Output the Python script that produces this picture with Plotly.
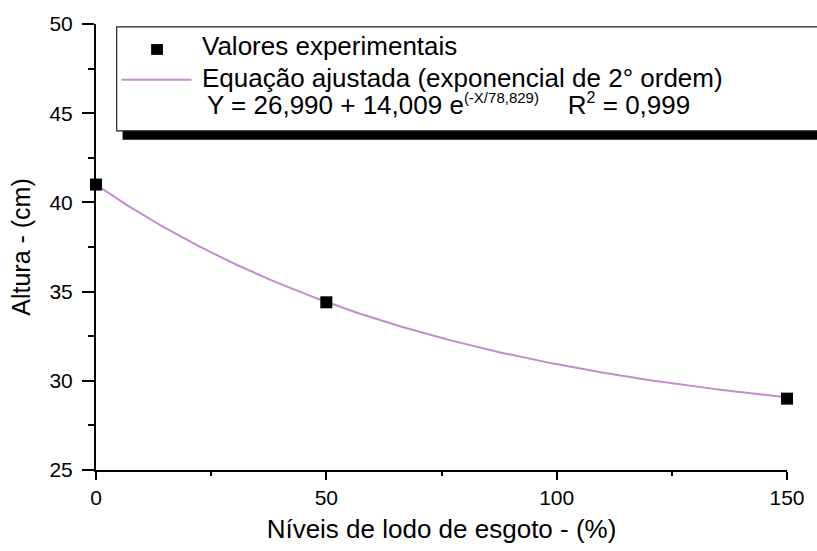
import numpy as np
import plotly.graph_objects as go

# Experimental plant height by sewage sludge level
niveis = [0, 50, 150]
altura = [41.0, 34.4, 29.0]

# Fitted second-order exponential: Y = y0 + A * exp(-X / t)
y0, amp, tau = 26.990, 14.009, 78.829
r2 = 0.999

x_tick_vals = [0, 50, 100, 150]
y_tick_vals = [25, 30, 35, 40, 45, 50]

x_fit = np.linspace(0, 150, 301)
y_fit = y0 + amp * np.exp(-x_fit / tau)

FONT = "Arial, Liberation Sans, sans-serif"
CURVE = "#c58bd0"

fig = go.Figure()
fig.add_trace(go.Scatter(
    x=x_fit, y=y_fit, mode="lines",
    line=dict(color=CURVE, width=2),
    name="Equação ajustada (exponencial de 2° ordem)",
    showlegend=False, cliponaxis=False,
))
fig.add_trace(go.Scatter(
    x=niveis, y=altura, mode="markers",
    marker=dict(symbol="square", size=12, color="black"),
    name="Valores experimentais",
    showlegend=False, cliponaxis=False,
))

W, H = 817, 551
ml, mr, mt, mb = 96, 19, 19, 77
pw, ph = W - ml - mr, H - mt - mb


def px(x):
    return (x - ml) / pw


def py(y):
    return (H - mb - y) / ph


shapes = [
    # legend shadow and frame
    dict(type="rect", xref="paper", yref="paper",
         x0=px(123), x1=px(900), y0=py(137), y1=py(30),
         fillcolor="black", line=dict(width=0), layer="above"),
    dict(type="rect", xref="paper", yref="paper",
         x0=px(117), x1=px(880), y0=py(128), y1=py(22),
         fillcolor="white", line=dict(color="#222", width=1.2), layer="above"),
    # legend keys
    dict(type="rect", xref="paper", yref="paper",
         x0=px(152), x1=px(164), y0=py(50.5), y1=py(39.5),
         fillcolor="black", line=dict(width=0), layer="above"),
    dict(type="line", xref="paper", yref="paper",
         x0=px(122), x1=px(193), y0=py(76), y1=py(76),
         line=dict(color=CURVE, width=2), layer="above"),
]

eq_text = (
    f"Y = {y0:.3f}".replace(".", ",")
    + f" + {amp:.3f}".replace(".", ",")
    + " e<sup><span style='font-size:15px'>(-X/"
    + f"{tau:.3f}".replace(".", ",") + ")</span></sup>"
    + "&nbsp;&nbsp;&nbsp;&nbsp;R<sup><span style='font-size:16px'>2</span></sup> = "
    + f"{r2:.3f}".replace(".", ",")
)

legend_lines = [
    ("Valores experimentais", 202, 41.5),
    ("Equação ajustada (exponencial de 2° ordem)", 202, 74.5),
    (eq_text, 207, 101.5),
]
annotations = [
    dict(text=t, xref="paper", yref="paper", x=px(x), y=py(y),
         xanchor="left", yanchor="middle", showarrow=False,
         font=dict(family=FONT, size=26, color="black"))
    for t, x, y in legend_lines
]

fig.update_layout(
    width=W, height=H,
    margin=dict(l=ml, r=mr, t=mt, b=mb),
    paper_bgcolor="white", plot_bgcolor="white",
    font=dict(family=FONT, color="black"),
    shapes=shapes, annotations=annotations,
    xaxis=dict(
        range=[0, 150], tickvals=x_tick_vals,
        showline=True, linecolor="black", linewidth=2,
        ticks="outside", ticklen=8, tickwidth=2, tickcolor="black",
        minor=dict(dtick=25, tick0=0, ticks="outside", ticklen=4,
                   tickwidth=2, tickcolor="black", showgrid=False),
        showgrid=False, zeroline=False,
        tickfont=dict(size=21, family=FONT),
        title=dict(text="Níveis de lodo de esgoto - (%)",
                   font=dict(size=26, family=FONT), standoff=12),
    ),
    yaxis=dict(
        range=[25, 50], tickvals=y_tick_vals,
        showline=True, linecolor="black", linewidth=2,
        ticks="outside", ticklen=12, tickwidth=2, tickcolor="black",
        minor=dict(dtick=2.5, tick0=25, ticks="outside", ticklen=6,
                   tickwidth=2, tickcolor="black", showgrid=False),
        showgrid=False, zeroline=False,
        tickfont=dict(size=21, family=FONT),
        ticklabelstandoff=5,
        title=dict(text="Altura - (cm)",
                   font=dict(size=25, family=FONT), standoff=12),
    ),
)

fig.write_html("out.html")
